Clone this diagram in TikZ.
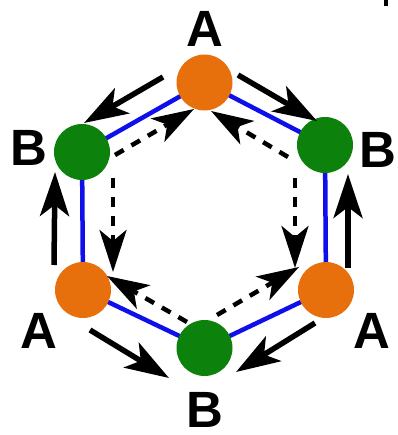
\documentclass[tikz,border=0pt]{standalone}
\usepackage{fontspec}
\setmainfont{Liberation Sans}
\usetikzlibrary{arrows.meta}
\definecolor{nodeorange}{RGB}{232,112,12}
\definecolor{nodegreen}{RGB}{12,130,12}
\definecolor{edgeblue}{RGB}{15,15,235}
\tikzset{
  anode/.style={circle,fill=nodeorange,minimum size=56pt,inner sep=0pt},
  bnode/.style={circle,fill=nodegreen,minimum size=56pt,inner sep=0pt},
  lab/.style={font=\fontsize{51}{51}\selectfont\bfseries,inner sep=0pt,anchor=center},
  bond/.style={draw=edgeblue,line width=4.5pt},
  solidarr/.style={draw=black,line width=5.5pt,-{Stealth[length=44pt,width=29pt,inset=11pt]}},
  dasharr/.style={draw=black,line width=4.5pt,dash pattern=on 10pt off 9pt,-{Stealth[length=42pt,width=27pt,inset=11pt]}}
}
\begin{document}
\begin{tikzpicture}[x=1pt,y=-1pt]
\useasboundingbox (0,0) rectangle (397,435);
\fill[white] (0,0) rectangle (397,435);
% node positions
\coordinate (pT) at (204.5,82.5);
\coordinate (pUL) at (82,152);
\coordinate (pUR) at (325,145);
\coordinate (pLL) at (83,290);
\coordinate (pLR) at (326,290);
\coordinate (pB) at (204.5,348);
% blue bonds
\draw[bond] (pT) -- (pUL) -- (pLL) -- (pB) -- (pLR) -- (pUR) -- cycle;
% nodes
\node[anode] (aT) at (pT) {};
\node[bnode] (bUL) at (pUL) {};
\node[bnode] (bUR) at (pUR) {};
\node[anode] (aLL) at (pLL) {};
\node[anode] (aLR) at (pLR) {};
\node[bnode] (bB) at (pB) {};
% labels
\node[lab] (lT) at (205,29) {A};
\node[lab] (lUL) at (29,148) {B};
\node[lab] (lUR) at (378,150) {B};
\node[lab] (lLL) at (39,331) {A};
\node[lab] (lLR) at (372,331) {A};
\node[lab] (lB) at (205,410) {B};
% solid arrow end points
\coordinate (s1a) at (163,77);  \coordinate (s1b) at (84,123);
\coordinate (s2a) at (238,75);  \coordinate (s2b) at (317,121);
\coordinate (s3a) at (54,265);  \coordinate (s3b) at (55,172);
\coordinate (s4a) at (348,268); \coordinate (s4b) at (348,174);
\coordinate (s5a) at (90,330);  \coordinate (s5b) at (169,378);
\coordinate (s6a) at (315,323); \coordinate (s6b) at (236,372);
\draw[solidarr] (s1a) -- (s1b);
\draw[solidarr] (s2a) -- (s2b);
\draw[solidarr] (s3a) -- (s3b);
\draw[solidarr] (s4a) -- (s4b);
\draw[solidarr] (s5a) -- (s5b);
\draw[solidarr] (s6a) -- (s6b);
% dashed arrow end points
\coordinate (d1a) at (115,155); \coordinate (d1b) at (194,109);
\coordinate (d2a) at (288,157); \coordinate (d2b) at (211,111);
\coordinate (d3a) at (113,178); \coordinate (d3b) at (113,272);
\coordinate (d4a) at (295,178); \coordinate (d4b) at (295,268);
\coordinate (d5a) at (187,322); \coordinate (d5b) at (107,276);
\coordinate (d6a) at (217,315); \coordinate (d6b) at (299,267);
\draw[dasharr] (d1a) -- (d1b);
\draw[dasharr] (d2a) -- (d2b);
\draw[dasharr] (d3a) -- (d3b);
\draw[dasharr] (d4a) -- (d4b);
\draw[dasharr] (d5a) -- (d5b);
\draw[dasharr] (d6a) -- (d6b);
% small stray mark at top right
\fill[black] (384,0) rectangle (388,6);
\end{tikzpicture}
\end{document}
